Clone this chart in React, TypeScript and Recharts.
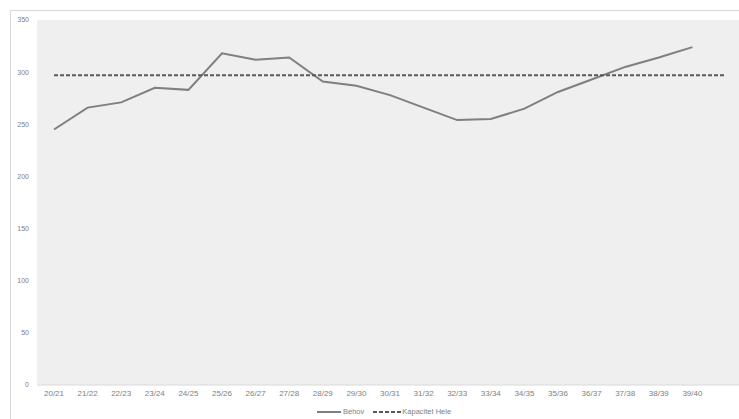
import { LineChart, Line, XAxis, YAxis, CartesianGrid } from "recharts";

// Sæsoner (sidste kategori er skåret af i billedet)
const seasons = [
    "20/21", "21/22", "22/23", "23/24", "24/25", "25/26", "26/27", "27/28", "28/29", "29/30",
    "30/31", "31/32", "32/33", "33/34", "34/35", "35/36", "36/37", "37/38", "38/39", "39/40", "",
];

const behov = [
    245, 266, 271, 285, 283, 318, 312, 314, 291, 287,
    278, 266, 254, 255, 265, 281, 293, 305, 314, 324, null,
];

const kapacitet = [
    297, 297, 297, 297, 297, 297, 297, 297, 297, 297,
    297, 297, 297, 297, 297, 297, 297, 297, 297, 297, 297,
];

const yTicks = [0, 50, 100, 150, 200, 250, 300, 350];

const data = seasons.map((s, i) => ({ season: s, behov: behov[i], kapacitet: kapacitet[i] }));

const font = "'Liberation Sans', Arial, sans-serif";

export default function App() {
    return (
        <div style={{ position: "fixed", left: 0, top: 0, width: 739, height: 419, overflow: "hidden", background: "#fff", fontFamily: font }}>
            {/* ramme */}
            <div style={{ position: "absolute", left: 10, top: 10, width: 800, height: 500, borderTop: "1px solid #d9d9d9", borderLeft: "1px solid #d9d9d9" }} />
            <div style={{ position: "absolute", left: 0, top: 0 }}>
                <LineChart width={743} height={419} data={data} margin={{ top: 20, right: 0, left: 10, bottom: 0 }}>
                    <CartesianGrid fill="#efefef" stroke="none" horizontal={false} vertical={false} />
                    <XAxis
                        dataKey="season"
                        height={34}
                        padding={{ left: 17, right: 17 }}
                        axisLine={{ stroke: "#d9d9d9" }}
                        tickLine={false}
                        tickSize={4}
                        tickMargin={1}
                        interval={0}
                        tick={{ fontSize: 8, fill: "#808080", fontFamily: font }}
                    />
                    <YAxis
                        width={27}
                        domain={[0, 350]}
                        ticks={yTicks}
                        axisLine={false}
                        tickLine={false}
                        tick={{ fontSize: 7, fill: "#808080", fontFamily: font }}
                    />
                    <Line
                        type="linear"
                        dataKey="behov"
                        stroke="#7f7f7f"
                        strokeWidth={2}
                        dot={false}
                        isAnimationActive={false}
                    />
                    <Line
                        type="linear"
                        dataKey="kapacitet"
                        stroke="#595959"
                        strokeWidth={2}
                        strokeDasharray="4 2"
                        dot={false}
                        isAnimationActive={false}
                    />
                </LineChart>
            </div>
            {/* legende */}
            <div style={{ position: "absolute", left: 317, top: 407, height: 10, lineHeight: "10px", display: "flex", alignItems: "center", fontSize: 7.5, color: "#808080", whiteSpace: "nowrap" }}>
                <svg width={24} height={4} style={{ marginRight: 2, display: "block" }}>
                    <line x1={0} y1={2} x2={24} y2={2} stroke="#7f7f7f" strokeWidth={2} />
                </svg>
                <span>Behov</span>
                <svg width={28} height={4} style={{ marginLeft: 9, marginRight: 1, display: "block" }}>
                    <line x1={0} y1={2} x2={28} y2={2} stroke="#595959" strokeWidth={2} strokeDasharray="4 2" />
                </svg>
                <span>Kapacitet Hele</span>
            </div>
        </div>
    );
}
